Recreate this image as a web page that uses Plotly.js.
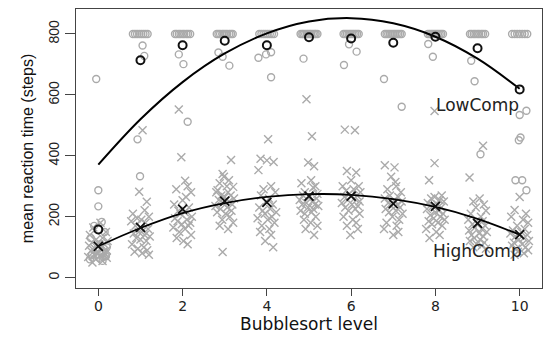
<!DOCTYPE html>
<html>
<head>
<meta charset="utf-8">
<script src="https://cdn.plot.ly/plotly-3.0.1.min.js"></script>
<style>html,body{margin:0;padding:0;background:#fff;}#chart{width:543px;height:337px;}</style>
</head>
<body>
<div id="chart"></div>
<script>
// Bubblesort levels
const levels = [0,1,2,3,4,5,6,7,8,9,10];

// HighComp individual reaction times (grey x), per level
const hcY = [
  [180,165,150,140,130,125,120,115,110,110,105,100,95,90,88,85,80,78,75,70,68,65,60,55,50],
  [484,282,249,221,210,200,195,190,185,180,170,160,155,150,145,140,135,130,125,120,110,100,95,90,85,80,75],
  [552,395,318,300,290,280,265,254,240,230,220,215,210,200,195,190,185,180,175,170,165,160,150,140,130,120,110],
  [386,340,331,320,310,300,298,287,280,280,270,270,265,260,255,250,245,240,235,230,225,220,215,210,200,190,180,170,160,84],
  [454,390,385,380,353,300,290,280,270,260,250,240,230,225,220,215,210,200,195,190,180,170,160,150,140,120,100],
  [586,464,378,366,320,310,300,296,280,275,270,265,260,255,250,245,240,240,235,230,225,220,215,210,200,190,180,170,160,140],
  [486,484,350,345,320,300,300,290,285,280,275,270,265,260,255,250,245,240,235,230,225,220,210,200,190,180,170,160,140],
  [369,362,331,314,300,290,280,270,265,260,255,250,245,240,235,230,225,220,215,210,200,190,180,170,160,150,140],
  [547,376,320,270,265,260,254,250,245,240,235,230,225,220,215,210,205,200,195,190,185,180,175,170,160,150,140,130],
  [433,329,260,250,240,230,220,210,200,190,185,180,175,170,165,160,155,150,145,140,135,130,125,120,115,110,105,100,95],
  [265,222,210,200,190,180,170,160,155,150,145,140,135,130,125,120,115,110,105,100,95,90,85,80,75]
];
// horizontal jitter of each HighComp point
const hcJit = [
  [0.05,-0.12,0.18,-0.2,0.1,-0.05,0.22,-0.15,0.02,0.14,-0.22,0.08,-0.08,0.2,-0.18,0.12,-0.02,0.16,-0.1,0.04,-0.24,0.2,-0.06,0.1,-0.14],
  [0.05,-0.03,0.15,0.1,-0.18,0.2,-0.08,0.02,-0.22,0.12,-0.12,0.18,0.06,-0.04,-0.16,0.1,0.22,-0.1,0.0,0.14,-0.2,0.08,-0.06,0.16,-0.14,0.04,0.2],
  [-0.09,-0.03,0.06,0.12,-0.15,0.2,0.08,0.0,-0.2,0.15,-0.1,0.05,-0.05,0.22,-0.18,0.1,-0.12,0.18,-0.02,0.14,-0.22,0.06,-0.08,0.2,-0.14,0.02,0.12],
  [0.15,-0.05,-0.02,0.1,-0.12,0.05,0.2,-0.17,0.08,-0.2,0.14,-0.08,0.0,0.22,-0.14,0.1,-0.04,0.18,-0.22,0.06,-0.1,0.16,-0.18,0.02,0.12,-0.06,0.2,-0.12,0.08,-0.05],
  [0.03,-0.15,0.0,0.16,-0.2,0.1,-0.08,0.2,-0.14,0.05,-0.02,0.14,-0.18,0.08,-0.1,0.22,-0.05,0.12,-0.22,0.02,0.18,-0.12,0.06,-0.16,0.1,-0.04,0.15],
  [-0.06,0.07,-0.02,0.12,0.05,-0.18,0.15,0.1,-0.1,0.2,-0.14,0.02,0.18,-0.22,0.08,-0.06,0.14,-0.16,0.22,-0.02,0.1,-0.2,0.06,-0.1,0.16,-0.12,0.04,0.2,-0.08,0.12],
  [-0.15,0.09,-0.1,0.12,0.0,0.18,-0.2,0.06,-0.12,0.22,-0.04,0.14,-0.16,0.08,-0.08,0.2,-0.22,0.02,0.16,-0.14,0.1,-0.06,0.2,-0.18,0.04,0.12,-0.1,0.16,-0.02],
  [-0.2,0.03,-0.05,0.05,0.07,-0.14,0.18,-0.08,0.12,-0.2,0.02,0.2,-0.12,0.1,-0.04,0.16,-0.18,0.06,-0.1,0.22,-0.02,0.14,-0.16,0.08,-0.22,0.12,0.0],
  [-0.02,-0.02,-0.15,0.15,-0.02,-0.1,0.1,0.2,-0.18,0.05,-0.06,0.14,-0.2,0.08,0.0,0.18,-0.12,0.12,-0.04,0.22,-0.16,0.06,-0.08,0.16,-0.22,0.02,0.1,-0.14],
  [0.13,-0.19,0.05,-0.1,0.15,-0.04,0.2,-0.16,0.08,-0.22,0.12,0.0,-0.12,0.18,-0.06,0.1,-0.2,0.22,0.04,-0.14,0.14,-0.08,0.06,-0.18,0.16,-0.02,0.1,-0.1,0.2],
  [0.0,-0.12,0.15,-0.2,0.08,0.2,-0.06,0.12,-0.16,0.04,-0.22,0.18,-0.1,0.1,-0.02,0.22,-0.14,0.06,-0.18,0.14,-0.08,0.2,-0.04,0.1,-0.12]
];

// LowComp individual reaction times (grey o), per level (800 = cap)
const lcY = [
  [652,287,234,183,170,150,130,110,100,90,80,75,70,65,60,55],
  [800,800,800,800,800,800,800,800,762,728,454,333],
  [800,800,800,800,800,800,800,800,800,733,701,512],
  [800,800,800,800,800,800,800,800,800,800,739,725,696],
  [800,800,800,800,800,800,800,800,740,733,722,658],
  [800,800,800,800,800,800,800,800,800,800,800,800,719],
  [800,800,800,800,800,800,800,800,800,800,766,742,698],
  [800,800,800,800,800,800,800,800,800,800,800,652,561],
  [800,800,800,800,800,800,800,800,800,800,767,725],
  [800,800,800,800,800,800,800,800,800,712,645,405],
  [800,800,800,800,800,800,800,548,534,460,451,320,320,287]
];
const lcJit = [
  [-0.05,0.0,0.0,0.08,-0.1,0.15,-0.18,0.05,0.2,-0.05,0.12,-0.15,0.18,0.02,-0.2,0.1],
  [-0.18,-0.13,-0.08,-0.03,0.02,0.07,0.12,0.17,0.05,0.09,-0.07,-0.01],
  [-0.18,-0.14,-0.09,-0.05,0.0,0.04,0.09,0.13,0.18,-0.09,0.02,0.12],
  [-0.19,-0.15,-0.11,-0.06,-0.02,0.02,0.06,0.11,0.15,0.19,-0.15,-0.05,0.11],
  [-0.18,-0.13,-0.08,-0.03,0.02,0.07,0.12,0.17,0.1,-0.02,-0.2,0.1],
  [-0.2,-0.16,-0.13,-0.09,-0.05,-0.02,0.02,0.05,0.09,0.13,0.16,0.2,-0.13],
  [-0.18,-0.14,-0.1,-0.06,-0.02,0.02,0.06,0.1,0.14,0.18,-0.05,0.13,-0.17],
  [-0.2,-0.16,-0.12,-0.08,-0.04,0.0,0.04,0.08,0.12,0.16,0.2,-0.22,0.2],
  [-0.18,-0.14,-0.1,-0.06,-0.02,0.02,0.06,0.1,0.14,0.18,-0.17,-0.06],
  [-0.18,-0.14,-0.09,-0.05,0.0,0.04,0.09,0.13,0.18,-0.15,-0.07,0.07],
  [-0.18,-0.12,-0.06,0.0,0.06,0.12,0.18,0.16,0.0,0.02,-0.02,-0.1,0.06,0.16]
];

// level means
const lcMean = [158,714,763,778,763,789,785,771,791,753,618];
const hcMean = [103,165,225,251,247,268,268,243,234,178,141];
// fitted quadratic curves, read at each level
const lcFit = [371,520,642,736,802,841,852,835,791,719,620];
const hcFit = [103,163,212,245,265,274,272,258,232,193,141];

const xTicks = [0,2,4,6,8,10];
const yTicks = [0,200,400,600,800];

function flatten(ys, jit){
  const xs=[], yy=[];
  ys.forEach((arr,i)=>arr.forEach((v,j)=>{ xs.push(levels[i]+jit[i][j]); yy.push(v); }));
  return {x:xs, y:yy};
}
const hc = flatten(hcY, hcJit);
const lc = flatten(lcY, lcJit);

const grey = '#aaaaaa';
const traces = [
  {type:'scatter', mode:'markers', x:hc.x, y:hc.y, name:'HighComp',
   marker:{symbol:'x-thin-open', size:8, line:{color:grey, width:1.4}, color:grey}, showlegend:false, hoverinfo:'skip'},
  {type:'scatter', mode:'markers', x:lc.x, y:lc.y, name:'LowComp',
   marker:{symbol:'circle-open', size:7, line:{color:grey, width:1.4}, color:grey}, showlegend:false, hoverinfo:'skip'},
  {type:'scatter', mode:'lines', x:levels, y:lcFit, line:{color:'#000', width:2, shape:'spline', smoothing:1}, showlegend:false},
  {type:'scatter', mode:'lines', x:levels, y:hcFit, line:{color:'#000', width:1.8, shape:'spline', smoothing:1}, showlegend:false},
  {type:'scatter', mode:'markers', x:levels, y:lcMean,
   marker:{symbol:'circle-open', size:8, color:'#111', line:{color:'#111', width:2}}, showlegend:false},
  {type:'scatter', mode:'markers', x:levels, y:hcMean,
   marker:{symbol:'x-thin-open', size:9, color:'#111', line:{color:'#111', width:1.8}}, showlegend:false}
];

const axisCommon = {
  showgrid:false, zeroline:false, showline:true, mirror:true,
  linecolor:'#444', linewidth:1, ticks:'outside', tickcolor:'#444', tickwidth:1
};
const layout = {
  width:543, height:337,
  margin:{l:76, r:1, t:9, b:49},
  paper_bgcolor:'#fff', plot_bgcolor:'#fff',
  font:{family:'DejaVu Sans, sans-serif', color:'#111'},
  xaxis:Object.assign({}, axisCommon, {
    range:[-0.53,10.53], tickvals:xTicks, ticktext:xTicks.map(String), ticklen:7,
    ticklabelstandoff:-2,
    tickfont:{family:'DejaVu Sans', size:14, color:'#222'},
    title:{text:'Bubblesort level', font:{family:'DejaVu Sans', size:17, color:'#111'}, standoff:4}
  }),
  yaxis:Object.assign({}, axisCommon, {
    range:[-34,882], tickvals:yTicks, ticktext:yTicks.map(String), ticklen:10, tickangle:-90,
    tickfont:{family:'Liberation Sans, Arial', size:14, color:'#222'},
    title:{text:'mean reaction time (steps)', font:{family:'Liberation Sans, Arial', size:16, color:'#111'}, standoff:8}
  }),
  annotations:[
    {x:9, y:567, xref:'x', yref:'y', text:'LowComp', showarrow:false, font:{family:'DejaVu Sans', size:17, color:'#222'}},
    {x:9, y:87, xref:'x', yref:'y', text:'HighComp', showarrow:false, font:{family:'DejaVu Sans', size:17, color:'#222'}}
  ]
};
Plotly.newPlot('chart', traces, layout, {staticPlot:true, displayModeBar:false});
</script>
</body>
</html>
